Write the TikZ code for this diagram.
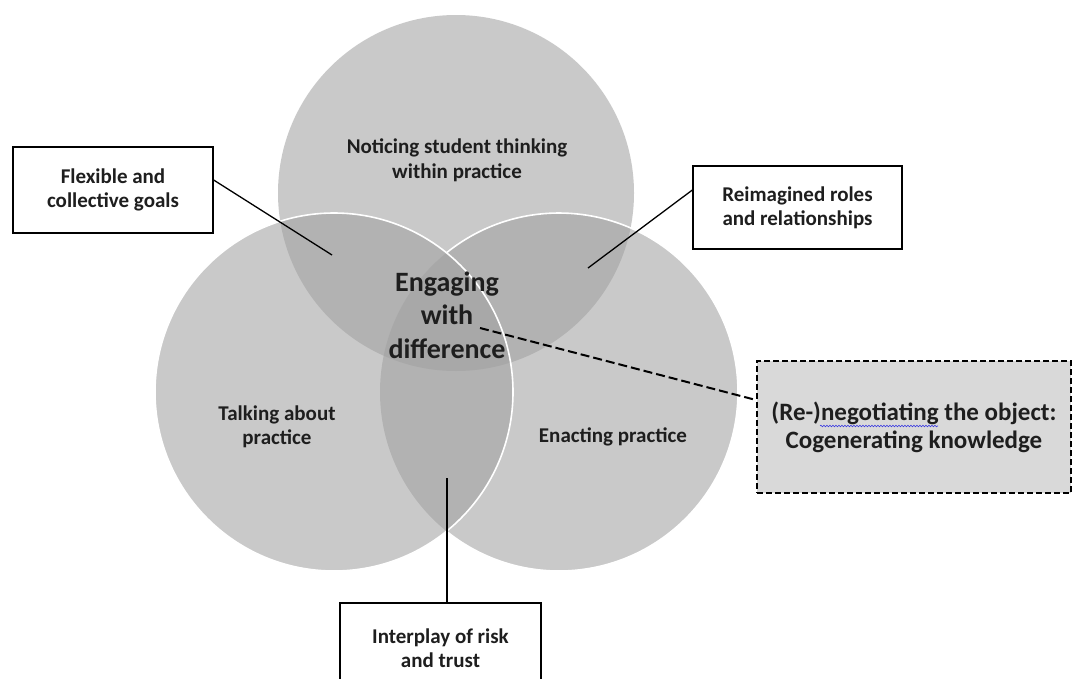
\documentclass[tikz,border=0pt]{standalone}
\usepackage{fontspec}
\setmainfont{Carlito}
\usetikzlibrary{decorations.pathmorphing}
\definecolor{vennfill}{gray}{0.632}
\definecolor{txt}{HTML}{1E1E1E}
\definecolor{negfill}{HTML}{D9D9D9}
\definecolor{wavecol}{HTML}{3A3AE0}
\begin{document}
\begin{tikzpicture}[x=1pt,y=-1pt,
  venn/.style={fill=vennfill, fill opacity=0.57},
  rim/.style={draw=white, line width=1.6pt},
  ctext/.style={inner sep=0pt, align=center, text=txt},
  boxtext/.style={font=\fontsize{21}{24}\selectfont\bfseries},
  labelbox/.style={draw=black, line width=1.3pt, fill=white, align=center, inner sep=0pt, text=txt, boxtext},
  dashbox/.style={draw=black, line width=1.8pt, dash pattern=on 6pt off 3pt, fill=negfill, align=center, inner sep=0pt, text=txt, font=\fontsize{25}{28}\selectfont\bfseries},
  conn/.style={draw=black, line width=1.3pt},
  dconn/.style={draw=black, line width=2pt, dash pattern=on 9pt off 4pt},
  squiggle/.style={draw=wavecol, line width=0.6pt, decorate, decoration={snake, amplitude=0.8pt, segment length=3pt}}
]
\clip (0,0) rectangle (1074,678);
\fill[white] (0,0) rectangle (1074,678);
% circles
\fill[venn] (456,193) circle (178pt);
\fill[venn] (559,392) circle (179pt);
\fill[venn] (334,392) circle (179pt);
\draw[rim] (446.5,252.8) arc[start angle=128.94, end angle=-128.94, radius=179pt];
\draw[rim] (334,392) circle (179pt);
% circle texts
\node[ctext, font=\fontsize{21}{25}\selectfont\bfseries] (notice) at (457,160) {Noticing student thinking\\within practice};
\node[ctext, font=\fontsize{28}{33.5}\selectfont\bfseries] (engage) at (447,315) {Engaging\\with\\difference};
\node[ctext, boxtext] (talk) at (277,427) {Talking about\\practice};
\node[ctext, boxtext, anchor=base] (enact) at (613,442) {Enacting practice};
% boxes
\node[labelbox, minimum width=200pt, minimum height=86pt] (flex) at (113,190) {Flexible and\\collective goals};
\node[labelbox, minimum width=209pt, minimum height=83pt] (reim) at (797.5,207.5) {Reimagined roles\\and relationships};
\node[dashbox, minimum width=314pt, minimum height=132pt] (neg) at (914,427) {(Re-)negotiating the object:\\Cogenerating knowledge};
\node[labelbox, minimum width=201pt, minimum height=90pt] (inter) at (440.5,648) {Interplay of risk\\and trust};
% spell-check underline
\coordinate (wavea) at (820,426);
\coordinate (waveb) at (938,426);
\draw[squiggle] (wavea) -- (waveb);
% connector end points
\coordinate (flexend) at (332,255);
\coordinate (reimend) at (588,268);
\coordinate (interend) at (447,478);
\coordinate (negend) at (480,328);
% connectors
\draw[conn] ([yshift=10pt]flex.east) -- (flexend);
\draw[conn] ([yshift=17.5pt]reim.west) -- (reimend);
\draw[conn] ([xshift=6.5pt]inter.north) -- (interend);
\draw[dconn] (negend) -- ([yshift=27pt]neg.west);
\end{tikzpicture}
\end{document}
